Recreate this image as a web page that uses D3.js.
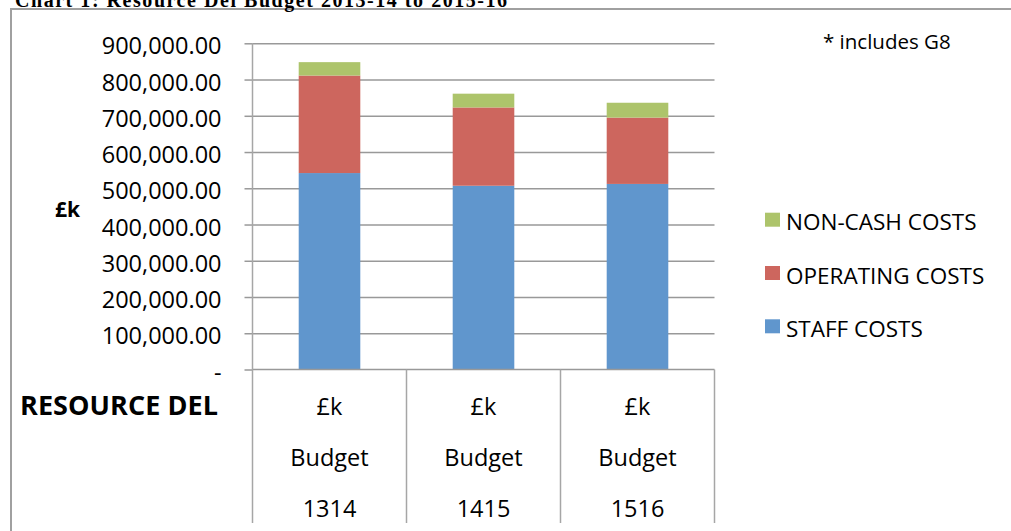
<!DOCTYPE html>
<html>
<head>
<meta charset="utf-8">
<script src="https://cdn.jsdelivr.net/npm/d3@7"></script>
<style>
  body { margin: 0; background: #fff; }
  svg text { font-family: 'Open Sans', sans-serif; fill: #000; }
</style>
</head>
<body>
<svg id="chart" width="1011" height="531"></svg>
<script>
const CATEGORIES = ['1314', '1415', '1516'];
const SERIES = ['STAFF COSTS', 'OPERATING COSTS', 'NON-CASH COSTS'];
const STAFF_COSTS = [542000, 507000, 512000];
const OPERATING_COSTS = [269000, 216000, 183000];
const NON_CASH_COSTS = [37000, 38000, 41000];
const Y_TICKS = [0, 100000, 200000, 300000, 400000, 500000, 600000, 700000, 800000, 900000];
const ROW_LABELS = ['£k', 'Budget'];

const COLORS = {
	'STAFF COSTS': '#6096cd',
	'OPERATING COSTS': '#cd665e',
	'NON-CASH COSTS': '#adc46b'
};

const svg = d3.select('#chart');

// Outer frame (left and top edges)
svg.append('path')
	.attr('d', 'M11,531 V9 H1011')
	.attr('fill', 'none')
	.attr('stroke', '#a0a0a0')
	.attr('stroke-width', 2);

// Title, partly above the top of the page as in the original
svg.append('text')
	.attr('x', 15)
	.attr('y', 6.5)
	.attr('textLength', 492)
	.style('font-family', "'Liberation Serif', serif")
	.style('font-weight', 'bold')
	.style('font-size', '20px')
	.text('Chart 1: Resource Del Budget 2013-14 to 2015-16');

const plot = { left: 252.5, right: 714.5, top: 43.3, bottom: 369.5 };

const x = d3.scaleBand()
	.domain(CATEGORIES)
	.range([plot.left, plot.right])
	.paddingInner(0.6)
	.paddingOuter(0.3);

const y = d3.scaleLinear()
	.domain([0, 900000])
	.range([plot.bottom, plot.top]);

// Grid lines
svg.append('g')
	.attr('transform', 'translate(' + plot.left + ',0)')
	.call(d3.axisRight(y).tickValues(Y_TICKS.slice(1)).tickSize(plot.right - plot.left).tickFormat(''))
	.call(g => g.select('.domain').remove())
	.call(g => g.selectAll('line').attr('stroke', '#999').attr('stroke-width', 1.5));

// Stacked bars
const rows = CATEGORIES.map((c, i) => ({
	cat: c,
	'STAFF COSTS': STAFF_COSTS[i],
	'OPERATING COSTS': OPERATING_COSTS[i],
	'NON-CASH COSTS': NON_CASH_COSTS[i]
}));
const stacked = d3.stack().keys(SERIES)(rows);

svg.append('g')
	.selectAll('g')
	.data(stacked)
	.enter()
	.append('g')
	.attr('fill', d => COLORS[d.key])
	.selectAll('rect')
	.data(d => d)
	.enter()
	.append('rect')
	.attr('x', d => x(d.data.cat))
	.attr('width', x.bandwidth())
	.attr('y', d => y(d[1]))
	.attr('height', d => y(d[0]) - y(d[1]));

// Y axis
const fmt = d3.format(',.2f');
svg.append('g')
	.attr('transform', 'translate(' + plot.left + ',0)')
	.call(d3.axisLeft(y).tickValues(Y_TICKS).tickSize(8).tickPadding(23)
		.tickFormat(d => d === 0 ? '-' : fmt(d)))
	.call(g => g.select('.domain').remove())
	.call(g => g.selectAll('line').attr('stroke', '#999').attr('stroke-width', 1.5))
	.call(g => g.selectAll('text')
		.style('font-family', "'Open Sans', sans-serif")
		.style('font-size', '23.5px')
		.attr('fill', '#000')
		.attr('dy', '0.45em'));

// Axis line and data table
const step = x.step();
const tableBottom = 523;
const edges = d3.range(CATEGORIES.length + 1).map(i => plot.left + i * step);

svg.append('line')
	.attr('x1', plot.left).attr('x2', plot.right)
	.attr('y1', plot.bottom).attr('y2', plot.bottom)
	.attr('stroke', '#999').attr('stroke-width', 1.5);

svg.append('line')
	.attr('x1', plot.left).attr('x2', plot.left)
	.attr('y1', plot.top).attr('y2', tableBottom)
	.attr('stroke', '#a6a6a6').attr('stroke-width', 1.5);

svg.append('g')
	.selectAll('line')
	.data(edges.slice(1))
	.enter()
	.append('line')
	.attr('x1', d => d).attr('x2', d => d)
	.attr('y1', plot.bottom).attr('y2', tableBottom)
	.attr('stroke', '#a6a6a6').attr('stroke-width', 1.5);

const rowY = [407, 457.5, 508.5];
const cellText = svg.append('g')
	.style('font-size', '23.5px')
	.attr('text-anchor', 'middle');

CATEGORIES.forEach(c => {
	const cx = x(c) + x.bandwidth() / 2;
	ROW_LABELS.concat([c]).forEach((t, r) => {
		cellText.append('text')
			.attr('x', cx)
			.attr('y', rowY[r])
			.attr('dy', '0.36em')
			.text(t);
	});
});

svg.append('text')
	.attr('x', 20)
	.attr('y', 405.5)
	.attr('dy', '0.36em')
	.attr('textLength', 198)
	.style('font-weight', 'bold')
	.style('font-size', '27px')
	.text('RESOURCE DEL');

// Y axis title
svg.append('text')
	.attr('x', 55)
	.attr('y', 209.5)
	.attr('dy', '0.36em')
	.style('font-weight', 'bold')
	.style('font-size', '21px')
	.text('£k');

// Note
svg.append('text')
	.attr('x', 823)
	.attr('y', 42)
	.attr('dy', '0.36em')
	.style('font-size', '20.5px')
	.text('* includes G8');

// Legend
const legend = svg.append('g')
	.selectAll('g')
	.data(SERIES.slice().reverse())
	.enter()
	.append('g')
	.attr('transform', (d, i) => 'translate(765,' + (212.7 + i * 53.3) + ')');

legend.append('rect')
	.attr('width', 15)
	.attr('height', 14)
	.attr('fill', d => COLORS[d]);

legend.append('text')
	.attr('x', 21)
	.attr('y', 9.5)
	.attr('dy', '0.36em')
	.style('font-size', '22.5px')
	.text(d => d);
</script>
</body>
</html>
